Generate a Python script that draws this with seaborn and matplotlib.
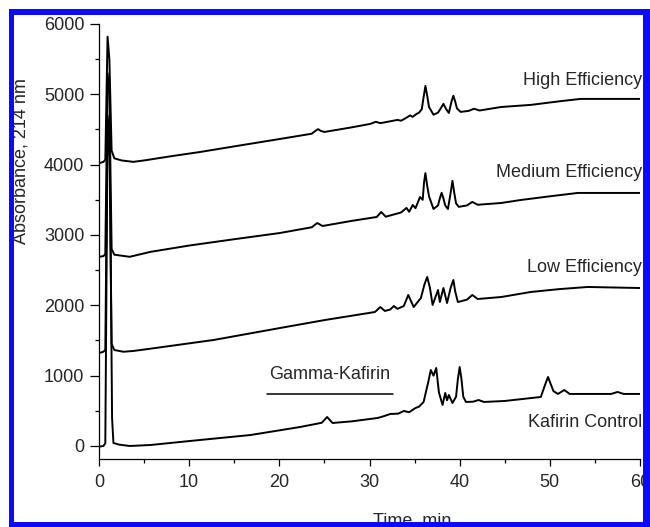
import matplotlib
matplotlib.use("Agg")
import matplotlib.pyplot as plt
from matplotlib.patches import Rectangle
from matplotlib.ticker import MultipleLocator
import pandas as pd
import seaborn as sns

# digitised chromatograms (time in min, absorbance at 214 nm)
high_t = [0, 0.5, 0.7, 0.95, 1.15, 1.4, 1.7, 2.5, 3.8, 5.0, 8.0, 11.2, 15.0, 20.1, 23.6, 24.1, 24.3, 24.6, 25.0,
          28.0, 30.1, 30.7, 31.2, 33.1, 33.5, 34.0, 34.5, 34.8, 35.2, 35.5, 35.8, 36.0, 36.2, 36.4, 36.6,
          37.1, 37.6, 37.9, 38.2, 38.5, 38.8, 39.1, 39.3, 39.5, 39.7, 40.1, 41.0, 41.6, 42.2, 44.6, 47.9,
          51.0, 53.4, 56.0, 60.0]
high_a = [4020, 4040, 4070, 5820, 5500, 4200, 4090, 4060, 4040, 4060, 4120, 4180, 4260, 4366, 4440, 4490, 4505, 4480, 4465,
          4530, 4580, 4610, 4590, 4636, 4625, 4660, 4700, 4680, 4720, 4740, 4790, 4960, 5120, 4980, 4820,
          4710, 4740, 4800, 4865, 4790, 4735, 4900, 4980, 4900, 4800, 4750, 4765, 4795, 4770, 4820, 4850,
          4900, 4935, 4935, 4935]

medium_t = [0, 0.5, 0.7, 0.95, 1.15, 1.4, 1.7, 3.4, 5.7, 10.0, 15.0, 20.1, 23.6, 24.2, 24.8, 28.0, 30.8, 31.3,
            31.8, 33.5, 34.1, 34.4, 34.8, 35.1, 35.6, 35.9, 36.05, 36.2, 36.4, 36.6, 37.1, 37.6, 37.8, 38.0,
            38.2, 38.4, 38.7, 39.0, 39.2, 39.4, 39.6, 39.9, 40.8, 41.4, 42.0, 44.6, 46.8, 50.0, 53.1, 56.0, 60.0]
medium_a = [2690, 2700, 2730, 5300, 5000, 2800, 2720, 2690, 2760, 2850, 2940, 3029, 3110, 3170, 3128, 3200, 3256, 3327,
            3260, 3320, 3385, 3330, 3427, 3380, 3540, 3500, 3750, 3880, 3700, 3550, 3370, 3420, 3520, 3600,
            3520, 3420, 3370, 3600, 3770, 3600, 3450, 3400, 3420, 3470, 3430, 3455, 3498, 3550, 3598, 3598, 3598]

low_t = [0, 0.5, 0.7, 0.95, 1.15, 1.4, 1.7, 2.7, 3.8, 5.5, 12.7, 20.1, 25.0, 30.6, 31.2, 31.7, 32.3, 32.7, 33.1,
         33.8, 34.3, 34.9, 35.7, 36.1, 36.4, 36.7, 37.0, 37.6, 37.8, 38.2, 38.6, 39.0, 39.3, 39.5, 39.8, 40.8,
         41.4, 42.0, 44.6, 47.9, 51.0, 54.2, 56.5, 60.0]
low_a = [1322, 1340, 1370, 4700, 4400, 1450, 1365, 1340, 1351, 1380, 1507, 1678, 1790, 1905, 1976, 1920, 1940, 1990, 1950,
         1990, 2147, 1976, 2104, 2300, 2403, 2250, 2005, 2218, 2047, 2246, 2033, 2250, 2360, 2200, 2047, 2080,
         2147, 2090, 2118, 2190, 2230, 2261, 2255, 2246]

control_t = [0, 0.5, 0.7, 0.95, 1.2, 1.45, 1.6, 2.2, 3.4, 5.7, 10.0, 16.8, 22.3, 24.7, 25.3, 25.9, 28.0, 30.9,
             31.5, 32.3, 33.2, 33.8, 34.4, 35.1, 35.5, 36.0, 36.5, 36.8, 37.1, 37.4, 37.7, 38.1, 38.4, 38.6,
             38.8, 39.2, 39.6, 39.8, 40.0, 40.2, 40.4, 40.7, 41.5, 42.1, 42.7, 45.0, 49.0, 49.5, 49.8, 50.1,
             50.4, 50.9, 51.6, 52.2, 54.0, 56.8, 57.5, 58.2, 60.0]
control_a = [-10, 0, 40, 4500, 4100, 400, 43, 20, 0, 14, 70, 156, 270, 330, 412, 327, 350, 398,
             420, 455, 460, 498, 480, 540, 560, 626, 900, 1080, 1000, 1109, 760, 583, 754, 650,
             725, 611, 700, 950, 1123, 950, 700, 626, 630, 654, 626, 640, 697, 880, 981, 880,
             780, 740, 796, 740, 740, 740, 768, 740, 740]

samples = ['High Efficiency', 'Medium Efficiency', 'Low Efficiency', 'Kafirin Control']
label_y = [5190, 3882, 2531, 341]
gamma_span = [18.6, 32.6]
gamma_y = 740

frames = []
for name, t, a in zip(samples, [high_t, medium_t, low_t, control_t], [high_a, medium_a, low_a, control_a]):
    frames.append(pd.DataFrame({'Time': t, 'Absorbance': a, 'Sample': name}))
data = pd.concat(frames, ignore_index=True)

sns.set_theme(style='ticks')
plt.rcParams['font.family'] = ['Liberation Sans', 'DejaVu Sans']

W, H = 650, 527
fig = plt.figure(figsize=(6.5, 5.27), dpi=100)
ax = fig.add_axes([99 / W, 1 - 459 / H, (640 - 99) / W, (459 - 24) / H])

sns.lineplot(data=data, x='Time', y='Absorbance', hue='Sample', palette=['black'] * 4,
             estimator=None, legend=False, linewidth=1.4, ax=ax)

ax.set(xlim=(0, 60), ylim=(-185, 6000), xlabel='', ylabel='')
ax.xaxis.set_major_locator(MultipleLocator(10))
ax.xaxis.set_minor_locator(MultipleLocator(5))
ax.yaxis.set_major_locator(MultipleLocator(1000))
ax.yaxis.set_minor_locator(MultipleLocator(500))
ax.tick_params(axis='x', which='major', direction='out', length=5, width=0.9, pad=5.5, labelsize=13, color='black')
ax.tick_params(axis='y', which='major', direction='out', length=6.5, width=0.9, pad=4, labelsize=13, color='black')
ax.tick_params(which='minor', direction='out', length=3, width=0.9, color='black')
sns.despine(ax=ax)
for s in ['left', 'bottom']:
    ax.spines[s].set_color('black')
    ax.spines[s].set_linewidth(0.9)

for name, y in zip(samples, label_y):
    ax.text(60.2, y, name, ha='right', va='center', fontsize=13, clip_on=False)

ax.plot(gamma_span, [gamma_y, gamma_y], color='black', linewidth=1.1)
ax.text(sum(gamma_span) / 2, 1010, 'Gamma-Kafirin', ha='center', va='center', fontsize=13)

fig.text(412 / W, 1 - 525 / H, 'Time, min', ha='center', va='baseline', fontsize=13)
fig.text(21.5 / W, 1 - 161 / H, 'Absorbance, 214 nm', ha='center', va='center', rotation=90, fontsize=13)

# blue frame around the picture
blue = '#0a0aff'
for x0, y0, w, h in [(9, 9, 5, 518), (9, 9, 641, 6), (643, 9, 7, 518), (9, 522, 641, 5)]:
    fig.patches.append(Rectangle((x0 / W, 1 - (y0 + h) / H), w / W, h / H, transform=fig.transFigure,
                                 facecolor=blue, edgecolor='none', zorder=10))

fig.savefig('out.png', dpi=100)
